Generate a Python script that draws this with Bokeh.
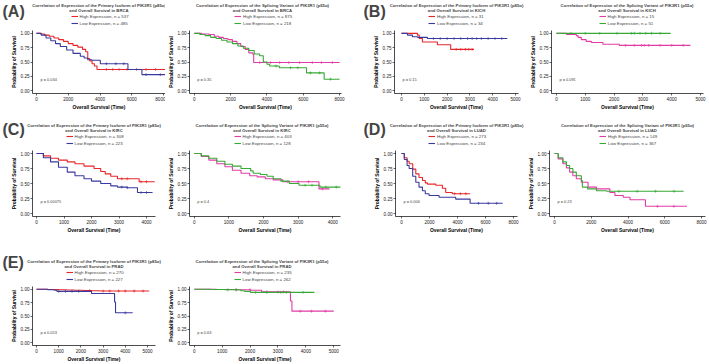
import numpy as np
from bokeh.plotting import figure
from bokeh.layouts import row, column
from bokeh.models import (Range1d, FixedTicker, NumeralTickFormatter, Legend,
                          LegendItem, Label)
from bokeh.embed import file_html
from bokeh.resources import INLINE

FONT = "Liberation Sans"
C_HIGH_P = "#E8262A"
C_LOW_P = "#3A3A9E"
C_HIGH_V = "#E23BA6"
C_LOW_V = "#36A936"

TITLE_P = "Correlation of Expression of the Primary Isoform of PIK3R1 (p85α)"
TITLE_V = "Correlation of Expression of the Splicing Variant of PIK3R1 (p55α)"
X_LABEL = "Overall Survival (Time)"
Y_LABEL = "Probability of Survival"
Y_TICKS = [0, 0.25, 0.5, 0.75, 1.0]

# ---------------- data ----------------
# (A) BRCA
brca_p_hi_t = [0, 250, 500, 800, 1100, 1400, 1700, 2000, 2300, 2600, 2900, 3100, 3230, 3350, 3500, 3650, 3810, 8100]
brca_p_hi_s = [1.0, 0.99, 0.97, 0.95, 0.92, 0.89, 0.86, 0.82, 0.79, 0.76, 0.72, 0.68, 0.56, 0.52, 0.47, 0.43, 0.37, 0.37]
brca_p_hi_c = [4400, 4800, 5200, 5700, 6300, 6900, 7500]
brca_p_lo_t = [0, 300, 600, 900, 1200, 1500, 1900, 2300, 2760, 3000, 3225, 3500, 4020, 5760, 6640, 8100]
brca_p_lo_s = [1.0, 0.97, 0.92, 0.87, 0.82, 0.77, 0.71, 0.65, 0.60, 0.57, 0.54, 0.53, 0.47, 0.37, 0.28, 0.28]
brca_p_lo_c = [4400, 5000, 5500, 6900, 7800]
brca_v_hi_t = [0, 400, 800, 1100, 1350, 1600, 1850, 2100, 2350, 2560, 2800, 3000, 3230, 3270, 8000]
brca_v_hi_s = [1.0, 0.99, 0.98, 0.95, 0.93, 0.91, 0.89, 0.86, 0.82, 0.77, 0.72, 0.66, 0.63, 0.49, 0.49]
brca_v_hi_c = [3600, 4200, 4700, 5200, 5800, 6500, 7000, 7600]
brca_v_lo_t = [0, 300, 600, 900, 1200, 1500, 1800, 2100, 2400, 2700, 3000, 3300, 3600, 3800, 4000, 4150, 4680, 6180, 7150, 8000]
brca_v_lo_s = [1.0, 0.98, 0.96, 0.93, 0.91, 0.88, 0.85, 0.82, 0.78, 0.74, 0.70, 0.64, 0.61, 0.50, 0.46, 0.43, 0.40, 0.31, 0.20, 0.20]
brca_v_lo_c = [4500, 5300, 5700, 6400, 6900, 7500]

# (B) KICH
kich_p_hi_t = [0, 700, 780, 918, 1575, 2158, 3180]
kich_p_hi_s = [1.0, 0.97, 0.91, 0.85, 0.80, 0.72, 0.72]
kich_p_hi_c = [2400, 2600, 2800, 2950, 3100]
kich_p_lo_t = [0, 262, 481, 700, 1137, 4640]
kich_p_lo_s = [1.0, 0.97, 0.94, 0.93, 0.91, 0.91]
kich_p_lo_c = [1400, 1700, 2000, 2300, 2600, 2900, 3100, 3300, 3500, 3800, 4100, 4400]
kich_v_hi_t = [0, 345, 690, 750, 860, 1030, 1210, 1610, 2180, 4650]
kich_v_hi_s = [1.0, 0.98, 0.96, 0.93, 0.89, 0.86, 0.84, 0.81, 0.79, 0.79]
kich_v_hi_c = [2400, 2700, 2950, 3050, 3200, 3600, 4000, 4400]
kich_v_lo_t = [0, 3965]
kich_v_lo_s = [1.0, 1.0]
kich_v_lo_c = [500, 1000, 1500, 2100, 2600, 2700, 2900, 3100, 3300, 3600]

# (C) KIRC
kirc_p_hi_t = [0, 250, 511, 800, 1119, 1400, 1727, 2092, 2335, 2500, 2700, 2943, 3551, 3733, 4300]
kirc_p_hi_s = [1.0, 0.96, 0.92, 0.89, 0.86, 0.83, 0.79, 0.75, 0.70, 0.66, 0.62, 0.58, 0.58, 0.53, 0.53]
kirc_p_hi_c = [3100, 3300, 3800, 4000]
kirc_p_lo_t = [0, 250, 511, 800, 1119, 1400, 1727, 2000, 2335, 2700, 2943, 3300, 3672, 4220]
kirc_p_lo_s = [1.0, 0.93, 0.86, 0.77, 0.69, 0.63, 0.58, 0.54, 0.50, 0.46, 0.44, 0.43, 0.35, 0.35]
kirc_p_lo_c = [3100, 3300, 3800, 4000]
kirc_v_hi_t = [0, 200, 419, 650, 884, 1100, 1349, 1600, 1814, 2050, 2279, 2558, 3600, 3906]
kirc_v_hi_s = [1.0, 0.95, 0.89, 0.83, 0.78, 0.72, 0.67, 0.63, 0.61, 0.58, 0.56, 0.53, 0.41, 0.41]
kirc_v_hi_c = [2700, 3000, 3300, 3700]
kirc_v_lo_t = [0, 200, 419, 650, 884, 1100, 1349, 1628, 1700, 1907, 2100, 2279, 2500, 2744, 3023, 3628, 4232]
kirc_v_lo_s = [1.0, 0.96, 0.92, 0.87, 0.82, 0.79, 0.75, 0.71, 0.67, 0.65, 0.62, 0.58, 0.54, 0.50, 0.47, 0.44, 0.44]
kirc_v_lo_c = [3200, 3400, 3800, 4100]

# (D) LUAD
luad_p_hi_t = [0, 200, 400, 546, 800, 1021, 1250, 1496, 1700, 1852, 2445, 2920, 3157, 3632, 4900]
luad_p_hi_s = [1.0, 0.93, 0.87, 0.83, 0.74, 0.66, 0.60, 0.55, 0.51, 0.49, 0.47, 0.42, 0.35, 0.33, 0.33]
luad_p_hi_c = [3800, 4200, 4600]
luad_p_lo_t = [0, 200, 400, 546, 800, 1021, 1250, 1496, 1700, 1970, 2683, 3870, 4900, 7230]
luad_p_lo_s = [1.0, 0.90, 0.80, 0.75, 0.62, 0.52, 0.44, 0.38, 0.33, 0.30, 0.27, 0.24, 0.17, 0.17]
luad_p_lo_c = [5500, 6200, 6800]
luad_v_hi_t = [0, 200, 456, 650, 822, 1000, 1187, 1461, 1826, 2283, 3013, 3287, 3743, 4109, 4950, 7210]
luad_v_hi_s = [1.0, 0.91, 0.83, 0.76, 0.69, 0.63, 0.58, 0.52, 0.44, 0.41, 0.35, 0.30, 0.27, 0.23, 0.12, 0.12]
luad_v_hi_c = [5600, 6500]
luad_v_lo_t = [0, 200, 456, 650, 822, 1000, 1187, 1461, 1516, 1800, 2283, 2830, 7030]
luad_v_lo_s = [1.0, 0.93, 0.86, 0.80, 0.75, 0.69, 0.63, 0.55, 0.44, 0.41, 0.38, 0.37, 0.37]
luad_v_lo_c = [3500, 4500, 5500, 6500]

# (E) PRAD
prad_p_hi_t = [0, 500, 1000, 1365, 1700, 2107, 2500, 2849, 5075]
prad_p_hi_s = [1.0, 0.995, 0.99, 0.985, 0.98, 0.975, 0.97, 0.965, 0.965]
prad_p_hi_c = [2400, 3000, 3300, 3700, 4000, 4400, 4800]
prad_p_lo_t = [0, 500, 800, 920, 1500, 2478, 3517, 3560, 4333]
prad_p_lo_s = [1.0, 0.99, 0.98, 0.96, 0.96, 0.92, 0.76, 0.56, 0.56]
prad_p_lo_c = [1000, 1300, 1600, 1900, 4000]
prad_v_hi_t = [0, 800, 1500, 2011, 2413, 3447, 3500, 5000]
prad_v_hi_s = [1.0, 0.995, 0.99, 0.98, 0.95, 0.78, 0.59, 0.59]
prad_v_hi_c = [1500, 2000, 2600, 3000, 3200, 3800, 4200, 4700]
prad_v_lo_t = [0, 600, 1092, 1666, 1800, 2011, 4309]
prad_v_lo_s = [1.0, 0.995, 0.99, 0.97, 0.96, 0.94, 0.94]
prad_v_lo_c = [1200, 1500, 2200, 2600, 3100, 3300, 3900]

cancers = ["BRCA", "KICH", "KIRC", "LUAD", "PRAD"]
tags = ["(A)", "(B)", "(C)", "(D)", "(E)"]
n_p_hi = [537, 31, 308, 273, 270]
n_p_lo = [485, 34, 223, 234, 227]
n_v_hi = [875, 15, 403, 149, 235]
n_v_lo = [218, 51, 128, 367, 262]
pvals_p = ["p = 0.034", "p = 0.15", "p = 0.00075", "p = 0.006", "p = 0.053"]
pvals_v = ["p = 0.35", "p = 0.091", "p = 0.4", "p = 0.23", "p = 0.63"]
xticks_all = [[0, 2000, 4000, 6000, 8000],
              [0, 1000, 2000, 3000, 4000, 5000],
              [0, 1000, 2000, 3000, 4000],
              [0, 2000, 4000, 6000, 8000],
              [0, 1000, 2000, 3000, 4000, 5000]]

curves = {
    "BRCA": ((brca_p_hi_t, brca_p_hi_s, brca_p_hi_c), (brca_p_lo_t, brca_p_lo_s, brca_p_lo_c),
             (brca_v_hi_t, brca_v_hi_s, brca_v_hi_c), (brca_v_lo_t, brca_v_lo_s, brca_v_lo_c)),
    "KICH": ((kich_p_hi_t, kich_p_hi_s, kich_p_hi_c), (kich_p_lo_t, kich_p_lo_s, kich_p_lo_c),
             (kich_v_hi_t, kich_v_hi_s, kich_v_hi_c), (kich_v_lo_t, kich_v_lo_s, kich_v_lo_c)),
    "KIRC": ((kirc_p_hi_t, kirc_p_hi_s, kirc_p_hi_c), (kirc_p_lo_t, kirc_p_lo_s, kirc_p_lo_c),
             (kirc_v_hi_t, kirc_v_hi_s, kirc_v_hi_c), (kirc_v_lo_t, kirc_v_lo_s, kirc_v_lo_c)),
    "LUAD": ((luad_p_hi_t, luad_p_hi_s, luad_p_hi_c), (luad_p_lo_t, luad_p_lo_s, luad_p_lo_c),
             (luad_v_hi_t, luad_v_hi_s, luad_v_hi_c), (luad_v_lo_t, luad_v_lo_s, luad_v_lo_c)),
    "PRAD": ((prad_p_hi_t, prad_p_hi_s, prad_p_hi_c), (prad_p_lo_t, prad_p_lo_s, prad_p_lo_c),
             (prad_v_hi_t, prad_v_hi_s, prad_v_hi_c), (prad_v_lo_t, prad_v_lo_s, prad_v_lo_c)),
}

# ---------------- layout geometry (pixels) ----------------
# per row: (row height, frame top, frame height)
ROWS = [(112, 30, 65), (123, 38, 66), (129, 51, 64)]
# per panel: (fig x0, fig width, frame left, frame right, px of 0 tick, px of last tick)
GEOM = {
    "BRCA": [(0, 165, 32, 165, 36, 163), (165, 190, 183, 341, 188, 339)],
    "KICH": [(355, 172, 394, 518, 401, 515), (527, 182, 550, 703, 555, 700)],
    "KIRC": [(0, 165, 32, 155, 36, 146), (165, 190, 183, 340, 188, 332)],
    "LUAD": [(355, 170, 395, 517, 401, 513), (525, 184, 549, 705, 554, 701)],
    "PRAD": [(0, 165, 32, 155, 36, 147), (165, 190, 183, 340, 188, 333)],
}
ROW_OF = {"BRCA": 0, "KICH": 0, "KIRC": 1, "LUAD": 1, "PRAD": 2}
TAG_UP = [28, 28, 30, 30, 33]      # px above frame top of the panel letter's top
TAG_X = [2, 363, 2, 363, 2]        # page x of the panel letter
TITLE_UP = (25, 20.3)              # px above frame top of the two title lines
LEGEND_UP = 17                     # px above frame top of the legend's top
LEGEND_H = 13                      # legend height, px (2 rows of 6 + 1 spacing)
LEGEND_W = 56                      # approx legend width, px


def surv_at(t, s, c):
    idx = np.searchsorted(np.asarray(t), np.asarray(c), side="right") - 1
    return list(np.asarray(s)[idx])


def style_axes(p):
    for ax in (p.xaxis[0], p.yaxis[0]):
        ax.axis_line_color = "black"
        ax.axis_line_width = 0.7
        ax.major_tick_line_color = "black"
        ax.major_tick_line_width = 0.6
        ax.major_tick_in = 0
        ax.major_tick_out = 2
        ax.minor_tick_line_color = None
        ax.major_label_text_font = FONT
        ax.major_label_text_font_size = "4.6px"
        ax.major_label_text_color = "#222222"
        ax.major_label_standoff = 1
        ax.axis_label_text_font = FONT
        ax.axis_label_text_font_size = "4.9px"
        ax.axis_label_text_font_style = "bold"
        ax.axis_label_text_color = "black"
        ax.axis_label_standoff = 1


def make_panel(k, variant):
    ci = cancers.index(k)
    rh, ftop, fh = ROWS[ROW_OF[k]]
    gx0, gw, fl, fr, p0, pN = GEOM[k][variant]
    fw = fr - fl
    lb = fl - gx0
    xt = xticks_all[ci]
    scale = (pN - p0) / xt[-1]
    xs, xe = (fl - p0) / scale, (fr - p0) / scale

    hi, lo = curves[k][2 * variant], curves[k][2 * variant + 1]
    cols = (C_HIGH_P, C_LOW_P) if variant == 0 else (C_HIGH_V, C_LOW_V)
    ns = (n_p_hi[ci], n_p_lo[ci]) if variant == 0 else (n_v_hi[ci], n_v_lo[ci])

    # ---- main survival plot ----
    p = figure(width=gw, height=rh - ftop, output_backend="svg", toolbar_location=None,
               x_range=Range1d(xs, xe), y_range=Range1d(-0.05, 1.05),
               min_border_left=lb, min_border_right=gx0 + gw - fr,
               min_border_top=0, min_border_bottom=rh - ftop - fh)
    p.outline_line_color = None
    p.xgrid.visible = False
    p.ygrid.visible = False
    for (t, s, c), col in zip((hi, lo), cols):
        p.step(x=t, y=s, mode="after", line_color=col, line_width=1.1)
        p.scatter(x=c, y=surv_at(t, s, c), marker="cross", size=3,
                  line_color=col, line_width=0.6)
    p.xaxis.ticker = FixedTicker(ticks=xt)
    p.yaxis.ticker = FixedTicker(ticks=Y_TICKS)
    p.yaxis.formatter = NumeralTickFormatter(format="0.00")
    p.xaxis.axis_label = X_LABEL
    p.yaxis.axis_label = Y_LABEL
    style_axes(p)
    p.add_layout(Label(x=xs + 8 / scale, y=0.2,
                       text=(pvals_p if variant == 0 else pvals_v)[ci],
                       text_font=FONT, text_font_size="3.9px", text_baseline="middle"))

    # ---- header: title, legend, panel letter (pixel units, frame = whole header) ----
    h = figure(width=gw, height=ftop, output_backend="svg", toolbar_location=None,
               x_range=Range1d(0, gw), y_range=Range1d(0, ftop),
               x_axis_location=None, y_axis_location=None, title_location=None,
               min_border_left=0, min_border_right=0, min_border_top=0, min_border_bottom=0)
    h.outline_line_color = None
    h.xgrid.visible = False
    h.ygrid.visible = False
    keys = []
    for (t, s, c), col in zip((hi, lo), cols):
        keys.append(h.step(x=t, y=s, mode="after", line_color=col, line_width=1.1, visible=False))
    leg = Legend(items=[LegendItem(label="High Expression, n = %d" % ns[0], renderers=[keys[0]]),
                        LegendItem(label="Low Expression, n = %d" % ns[1], renderers=[keys[1]])],
                 location=(lb + (fw - LEGEND_W) / 2, LEGEND_UP - LEGEND_H), orientation="vertical",
                 margin=0, padding=0, spacing=1,
                 label_text_font=FONT, label_text_font_size="4.4px", label_height=6,
                 glyph_height=6, glyph_width=7, label_standoff=2,
                 border_line_color=None, background_fill_alpha=0, inactive_fill_alpha=0)
    h.add_layout(leg)
    title1 = TITLE_P if variant == 0 else TITLE_V
    title2 = "and Overall Survival in " + k
    for txt, up in zip((title1, title2), TITLE_UP):
        h.add_layout(Label(x=lb + fw / 2, y=up, text=txt, text_align="center",
                           text_baseline="middle", text_font=FONT, text_font_size="4.25px",
                           text_font_style="bold"))
    if variant == 0:
        h.add_layout(Label(x=TAG_X[ci] - gx0, y=TAG_UP[ci], text=tags[ci],
                           text_font=FONT, text_font_size="16px", text_font_style="bold",
                           text_baseline="top"))
    return h, p


panels = {k: (make_panel(k, 0), make_panel(k, 1)) for k in cancers}


def band(keys):
    heads = [panels[k][v][0] for k in keys for v in (0, 1)]
    plots = [panels[k][v][1] for k in keys for v in (0, 1)]
    return [row(*heads, spacing=0), row(*plots, spacing=0)]


layout = column(*band(["BRCA", "KICH"]), *band(["KIRC", "LUAD"]), *band(["PRAD"]), spacing=0)

open("out.html", "w").write(file_html(layout, INLINE))
